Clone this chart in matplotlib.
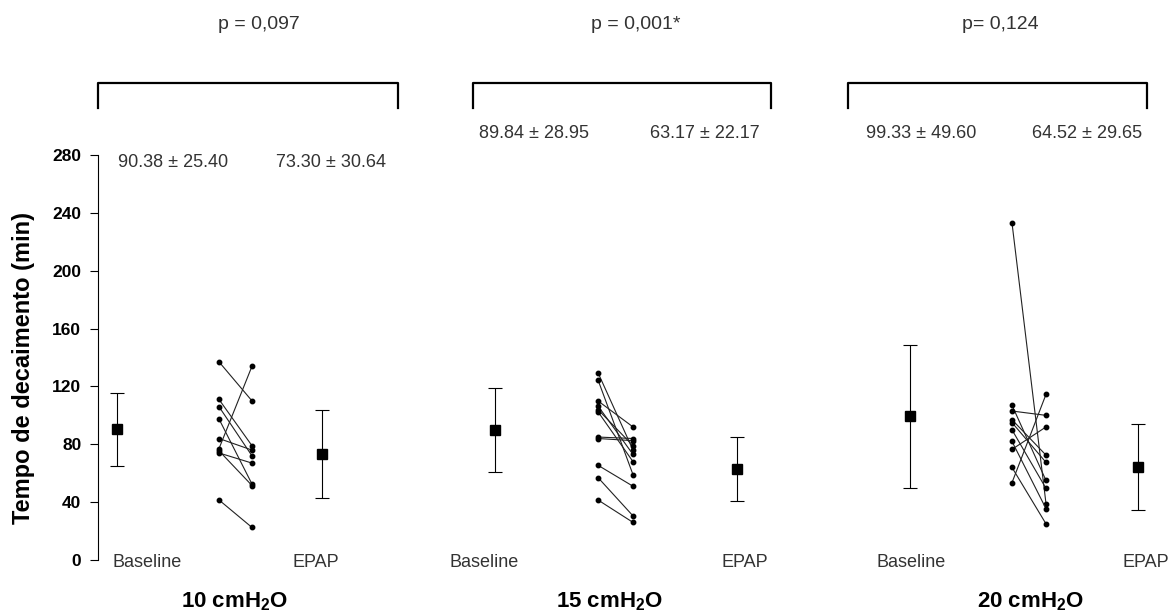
import numpy as np
import matplotlib
matplotlib.use("Agg")
from matplotlib import pyplot as plt

plt.rcParams['font.family'] = ['Liberation Sans', 'DejaVu Sans']
plt.rcParams['mathtext.fontset'] = 'custom'
plt.rcParams['mathtext.bf'] = 'Liberation Sans:bold'
plt.rcParams['mathtext.rm'] = 'Liberation Sans'

# data
pressures = ['10', '15', '20']
p_labels = ['p = 0,097', 'p = 0,001*', 'p= 0,124']
baseline_mean = [90.38, 89.84, 99.33]
baseline_sd = [25.40, 28.95, 49.60]
epap_mean = [73.30, 63.17, 64.52]
epap_sd = [30.64, 22.17, 29.65]

base_10 = [137, 111, 106, 97.5, 84, 77, 75.5, 74, 41.5]
epap_10 = [110, 79, 72, 52.5, 76, 134, 51.5, 67, 22.5]
base_15 = [129.5, 124.5, 110, 106.5, 104, 102.5, 85, 84, 65.5, 57, 41.5]
epap_15 = [76, 59, 92, 73, 79, 68, 84, 82.5, 51, 30.5, 26]
base_20 = [233, 107, 103, 97, 95, 90, 82, 76.5, 64, 53.5]
epap_20 = [39, 55, 100, 72.5, 67.5, 49.5, 35.5, 92, 25, 114.5]

individual_base = [base_10, base_15, base_20]
individual_epap = [epap_10, epap_15, epap_20]

# layout (x in figure pixels)
x_base_mean = [117, 495, 910]
x_epap_mean = [322, 737, 1138]
x_base_ind = [219, 598, 1012]
x_epap_ind = [252, 633, 1046]
bracket_left = [98, 473, 848]
bracket_right = [398, 771, 1147]
stat_left_x = [173, 534, 921]
stat_right_x = [331, 705, 1087]
stat_y = [275, 295, 295]
p_x = [259, 636, 1000]
group_x = [235, 610, 1031]
lab_base_x = [147, 484, 911]
lab_epap_x = [316, 745, 1146]

fig = plt.figure(figsize=(11.76, 6.12), dpi=100)
ax = fig.add_axes([0, 52 / 612, 1, 405 / 612])
ax.set_xlim(0, 1176)
ax.set_ylim(0, 280)

for i in range(3):
    # individual lines
    for b, e in zip(individual_base[i], individual_epap[i]):
        ax.plot([x_base_ind[i], x_epap_ind[i]], [b, e], color='#222222', lw=0.8,
                marker='o', ms=3.2, mfc='black', mec='black')
    # means with SD
    ax.errorbar(x_base_mean[i], baseline_mean[i], yerr=baseline_sd[i], fmt='s',
                color='black', ms=7, capsize=5, elinewidth=0.8, capthick=0.8)
    ax.errorbar(x_epap_mean[i], epap_mean[i], yerr=epap_sd[i], fmt='s',
                color='black', ms=7, capsize=5, elinewidth=0.8, capthick=0.8)
    # bracket
    ax.plot([bracket_left[i], bracket_left[i], bracket_right[i], bracket_right[i]],
            [312.5, 330, 330, 312.5], color='black', lw=1.6, clip_on=False)
    ax.text(p_x[i], 370, p_labels[i], ha='center', va='center', fontsize=14, color='#333333')
    ax.text(stat_left_x[i], stat_y[i], '%.2f \u00b1 %.2f' % (baseline_mean[i], baseline_sd[i]),
            ha='center', va='center', fontsize=13, color='#333333')
    ax.text(stat_right_x[i], stat_y[i], '%.2f \u00b1 %.2f' % (epap_mean[i], epap_sd[i]),
            ha='center', va='center', fontsize=13, color='#333333')
    ax.text(lab_base_x[i], -1.5, 'Baseline', ha='center', va='center', fontsize=13, color='#333333')
    ax.text(lab_epap_x[i], -1.5, 'EPAP', ha='center', va='center', fontsize=13, color='#333333')
    ax.text(group_x[i], -29, pressures[i] + r' cmH$_{\mathbf{2}}$O', ha='center', va='center',
            fontsize=16, fontweight='bold')

ax.text(24, 133, 'Tempo de decaimento (min)', rotation=90, ha='center', va='center',
        fontsize=17, fontweight='bold')

for s in ['top', 'right', 'bottom']:
    ax.spines[s].set_visible(False)
ax.spines['left'].set_position(('data', 98))
ax.spines['left'].set_linewidth(0.8)
ax.set_xticks([])
ax.set_yticks(np.arange(0, 281, 40))
ax.tick_params(axis='y', length=6, width=0.8, labelsize=12.5, pad=6)
for t in ax.get_yticklabels():
    t.set_fontweight('bold')

plt.savefig('out.png', dpi=100)
